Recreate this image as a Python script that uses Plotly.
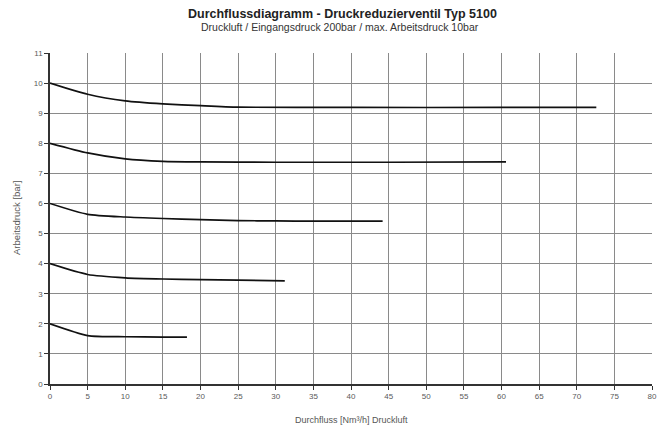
import plotly.graph_objects as go

# Data (x: Durchfluss Nm³/h, y: Arbeitsdruck bar)
x_10 = [0, 5, 10, 15, 20, 25, 40, 60, 72.6]
y_10 = [10, 9.63, 9.41, 9.31, 9.25, 9.2, 9.19, 9.19, 9.19]
x_8 = [0, 5, 10, 15, 20, 30, 45, 60.6]
y_8 = [8, 7.68, 7.48, 7.4, 7.38, 7.37, 7.37, 7.38]
x_6 = [0, 5, 10, 15, 20, 25, 30, 35, 44.2]
y_6 = [6, 5.64, 5.55, 5.5, 5.46, 5.43, 5.42, 5.41, 5.41]
x_4 = [0, 5, 10, 15, 20, 25, 31.2]
y_4 = [4, 3.64, 3.53, 3.49, 3.47, 3.45, 3.43]
x_2 = [0, 5, 10, 15, 18.2]
y_2 = [2, 1.61, 1.57, 1.56, 1.56]

series = [(x_10, y_10), (x_8, y_8), (x_6, y_6), (x_4, y_4), (x_2, y_2)]

x_ticks = list(range(0, 81, 5))
y_ticks = list(range(0, 12, 1))

# page offset (default body margin of the html page)
OFF = 8
W, H = 668 - OFF, 429 - OFF
# target plot area in page pixels
PL, PR, PT, PB = 50, 652, 53, 384
ml, mr, mt, mb = PL - OFF, 668 - PR, PT - OFF, 429 - PB
pw, ph = PR - PL, PB - PT


def px(xp):
    return (xp - PL) / pw


def py(yp):
    return (PB - yp) / ph


fig = go.Figure()
for xs, ys in series:
    fig.add_trace(go.Scatter(x=xs, y=ys, mode="lines",
                             line=dict(color="#111111", width=1.7, shape="spline", smoothing=0.6),
                             showlegend=False, hoverinfo="skip"))

font = "Liberation Sans, Arial, sans-serif"
axis_common = dict(showgrid=True, gridcolor="#8a8a8a", gridwidth=1,
                   showline=True, linecolor="#333333", linewidth=1.5, ticks="outside", ticklen=4,
                   tickcolor="#333333", tickfont=dict(size=8, color="#5a5a5a"), zeroline=False)
fig.update_layout(
    width=W, height=H,
    margin=dict(l=ml, r=mr, t=mt, b=mb),
    paper_bgcolor="white", plot_bgcolor="white",
    font=dict(family=font, color="#444444", size=8),
    xaxis=dict(range=[0, 80], tickvals=x_ticks, **axis_common),
    yaxis=dict(range=[0, 11], tickvals=y_ticks, **axis_common),
    annotations=[
        dict(text="<b>Durchflussdiagramm - Druckreduzierventil Typ 5100</b>",
             xref="paper", yref="paper", x=px(342), y=py(14), xanchor="center", yanchor="middle",
             showarrow=False, font=dict(size=12.5, color="#222222")),
        dict(text="Druckluft / Eingangsdruck 200bar / max. Arbeitsdruck 10bar",
             xref="paper", yref="paper", x=px(340), y=py(27), xanchor="center", yanchor="middle",
             showarrow=False, font=dict(size=10.5, color="#333333")),
        dict(text="Arbeitsdruck [bar]", textangle=-90,
             xref="paper", yref="paper", x=px(16), y=py(218), xanchor="center", yanchor="middle",
             showarrow=False, font=dict(size=9.5, color="#555555")),
        dict(text="Durchfluss [Nm³/h] Druckluft",
             xref="paper", yref="paper", x=px(351), y=py(420), xanchor="center", yanchor="middle",
             showarrow=False, font=dict(size=9, color="#555555")),
    ],
)

fig.write_html("out.html")
